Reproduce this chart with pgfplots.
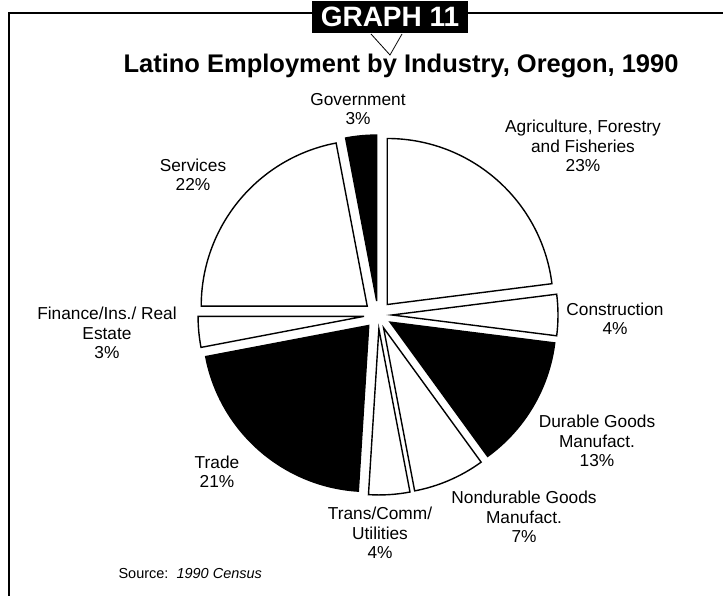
\documentclass[border=0pt]{standalone}
\usepackage{pgfplots}
\usepackage{pgfplotstable}
\pgfplotsset{compat=1.18}
\usepackage{fontspec}
\setmainfont{Liberation Sans}

% shares in percent, clockwise from 12 o'clock; shade 1 = black wedge
\pgfplotstableread{
share shade
23 0
4  0
13 1
7  0
4  0
21 1
3  0
22 0
3  1
}\employment

\newcommand{\lab}{\fontsize{17.3}{19.5}\selectfont}

\begin{document}
\begin{tikzpicture}
\begin{axis}[
  scale only axis, width=723pt, height=596pt,
  xmin=0, xmax=723, ymin=0, ymax=596,
  axis lines=none, clip=false,
]
% frame and heading
\draw[line width=2pt] (axis cs:723,583) -- (axis cs:9,583) -- (axis cs:9,0);
\node[fill=black, text=white, font=\fontsize{28}{28}\selectfont\bfseries,
  minimum width=156pt, minimum height=32pt, inner sep=0pt]
  at (axis cs:390,579) {GRAPH 11};
\draw[line width=0.8pt] (axis cs:371,562) -- (axis cs:390,541) -- (axis cs:402,562);
\node[font=\fontsize{25.5}{30}\selectfont\bfseries, anchor=base]
  at (axis cs:401,523) {Latino Employment by Industry, Oregon, 1990};

% exploded pie
\pgfplotstablegetrowsof{\employment}
\pgfmathtruncatemacro{\nrows}{\pgfplotsretval-1}
\def\angA{90}
\pgfplotsforeachungrouped \i in {0,...,\nrows}{
  \pgfplotstablegetelem{\i}{share}\of\employment \let\sh\pgfplotsretval
  \pgfplotstablegetelem{\i}{shade}\of\employment \let\sd\pgfplotsretval
  \pgfmathsetmacro{\angB}{\angA-3.6*\sh}
  \pgfmathsetmacro{\bis}{(\angA+\angB)/2}
  \pgfmathsetmacro{\px}{378+14*cos(\bis)}
  \pgfmathsetmacro{\py}{281+14*sin(\bis)}
  \ifnum\sd=1 \def\fc{black}\else\def\fc{white}\fi
  \edef\wedgecmd{\noexpand\filldraw[fill=\fc, draw=black, line width=1.4pt, line join=miter]
    (axis cs:\px,\py) -- ++(\angA:166pt)
    arc[start angle=\angA, end angle=\angB, radius=166pt] -- cycle;}
  \wedgecmd
  \global\let\angA\angB
}

% labels
\node[font=\lab, align=center] at (axis cs:358,487) {Government\\3\%};
\node[font=\lab, align=center] at (axis cs:583,450) {Agriculture, Forestry\\and Fisheries\\23\%};
\node[font=\lab, align=center] at (axis cs:615,277) {Construction\\4\%};
\node[font=\lab, align=center] at (axis cs:597,155) {Durable Goods\\Manufact.\\13\%};
\node[font=\lab, align=center] at (axis cs:524,79) {Nondurable Goods\\Manufact.\\7\%};
\node[font=\lab, align=center] at (axis cs:380,63) {Trans/Comm/\\Utilities\\4\%};
\node[font=\lab, align=center] at (axis cs:217,124) {Trade\\21\%};
\node[font=\lab, align=center] at (axis cs:107,263) {Finance/Ins./ Real\\Estate\\3\%};
\node[font=\lab, align=center] at (axis cs:193,421) {Services\\22\%};
\node[font=\fontsize{14.5}{16}\selectfont, anchor=base west] at (axis cs:115,17)
  {Source:\ \ \textit{1990 Census}};
\end{axis}
\pgfresetboundingbox
\useasboundingbox (current axis.south west) rectangle (current axis.north east);
\end{tikzpicture}
\end{document}
